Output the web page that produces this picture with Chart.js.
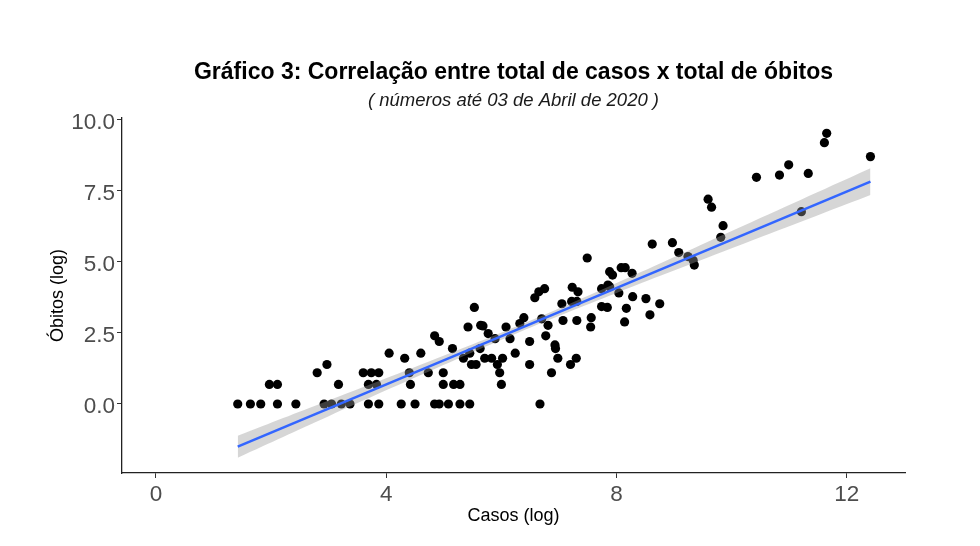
<!DOCTYPE html>
<html><head><meta charset="utf-8">
<script src="https://cdn.jsdelivr.net/npm/chart.js@4"></script>
<style>html,body{margin:0;padding:0;background:#fff}#wrap{width:980px;height:546px}</style>
</head><body><div id="wrap"><canvas id="c" width="980" height="546"></canvas></div>
<script>
const chartTitle = 'Gráfico 3: Correlação entre total de casos x total de óbitos';
const chartSubtitle = '( números até 03 de Abril de 2020 )';
const xTitle = 'Casos (log)';
const yTitle = 'Óbitos (log)';

const casos = [
  1.42,1.64,1.82,2.11,2.43,2.92,3.05,3.22,3.37,3.69,3.87,4.26,4.50,4.84,4.92,5.08,5.28,5.45,6.67,
  1.97,2.11,3.17,3.69,3.83,4.42,4.99,5.17,5.28,6.00,
  2.80,3.60,3.74,3.87,4.40,4.73,4.99,5.97,6.87,
  2.97,5.48,5.56,5.93,6.49,7.20,
  4.32,5.34,5.71,5.83,6.02,6.98,7.30,
  4.05,4.60,5.45,6.24,
  5.15,5.63,6.94,6.93,4.92,6.49,5.89,6.15,4.84,6.77,5.77,
  5.42,5.64,5.68,6.08,6.32,7.55,6.81,7.07,7.31,8.14,6.70,6.39,7.56,8.58,
  5.53,7.74,7.84,8.17,7.05,8.75,7.22,7.31,6.58,8.51,8.28,8.04,6.65,7.33,
  6.75,7.74,7.23,7.88,7.85,7.93,8.27,7.88,8.08,8.15,
  9.35,9.33,7.49,9.24,9.08,8.62,8.97,9.81,9.85,11.21,9.65,9.59,
  10.43,10.83,10.99,11.33,11.61,11.65,12.41
];
const obitos = [
  0,0,0,0,0,0,0,0,0,0,0,0,0,0,0,0,0,0,0,
  0.69,0.69,0.69,0.69,0.69,0.69,0.69,0.69,0.69,0.69,
  1.10,1.10,1.10,1.10,1.10,1.10,1.10,1.10,1.10,
  1.39,1.39,1.39,1.39,1.39,1.39,
  1.61,1.61,1.61,1.61,1.61,1.61,1.61,
  1.79,1.79,1.79,1.79,
  1.95,1.95,1.95,2.08,2.20,2.20,2.30,2.30,2.40,2.40,2.48,
  2.71,2.77,2.75,2.71,2.83,2.71,2.77,2.94,2.94,2.89,3.00,3.04,3.04,3.14,
  3.40,3.43,3.40,3.37,3.53,3.53,3.61,3.61,3.74,3.71,3.78,3.91,3.95,3.95,
  4.06,4.06,4.11,4.13,4.19,4.54,4.60,4.66,4.80,4.80,
  4.89,5.06,5.14,5.19,5.33,5.63,5.68,5.87,6.28,6.77,6.93,7.21,
  7.98,8.06,8.42,8.12,9.20,9.53,8.71
];

const fitX = [1.42, 12.41];
const fitY = [-1.50, 7.83];
const bandX = [1.42, 3, 4.5, 6.3, 8, 10, 12.41];
const bandLow = [-1.89, -0.43, 0.93, 2.52, 3.91, 5.48, 7.36];
const bandHigh = [-1.12, 0.12, 1.30, 2.76, 4.26, 6.09, 8.30];

const xTicks = [0, 4, 8, 12];
const yTicks = [0, 2.5, 5, 7.5, 10];

const zip = (xs, ys) => xs.map((x, i) => ({x: x, y: ys[i]}));

Chart.defaults.font.family = "'Liberation Sans', Arial, Helvetica, sans-serif";

new Chart(document.getElementById('c'), {
  type: 'scatter',
  data: {
    datasets: [
      {
        type: 'line', label: 'low', data: zip(bandX, bandLow), showLine: true,
        borderColor: 'rgba(0,0,0,0)', borderWidth: 0, pointRadius: 0, fill: false, tension: 0.4, order: 2
      },
      {
        type: 'line', label: 'high', data: zip(bandX, bandHigh), showLine: true,
        borderColor: 'rgba(0,0,0,0)', borderWidth: 0, pointRadius: 0,
        fill: '-1', backgroundColor: 'rgba(153,153,153,0.4)', tension: 0.4, order: 2
      },
      {
        type: 'line', label: 'fit', data: zip(fitX, fitY), showLine: true,
        borderColor: '#3366FF', borderWidth: 2.6, pointRadius: 0, fill: false, order: 1
      },
      {
        type: 'scatter', label: 'pts', data: zip(casos, obitos),
        backgroundColor: '#000', borderWidth: 0, pointRadius: 4.6, order: 3
      }
    ]
  },
  options: {
    responsive: false,
    animation: false,
    devicePixelRatio: 1,
    layout: {padding: {left: 0, right: 75, top: 0, bottom: 0}},
    plugins: {
      legend: {display: false},
      tooltip: {enabled: false},
      title: {
        display: true, text: chartTitle, fullSize: false, color: '#000',
        font: {size: 23, weight: 'bold'}, padding: {top: 59, bottom: 0}
      },
      subtitle: {
        display: true, text: chartSubtitle, fullSize: false, color: '#1a1a1a',
        font: {size: 18.5, style: 'italic', weight: 'normal'}, padding: {top: 3.3, bottom: 5.9}
      }
    },
    scales: {
      x: {
        type: 'linear', min: -0.59, max: 13.01,
        afterBuildTicks: s => { s.ticks = xTicks.map(v => ({value: v})); },
        afterFit: s => { s.height = 73; },
        ticks: {font: {size: 22.5}, color: '#4D4D4D', padding: 3.5},
        grid: {drawOnChartArea: false, drawTicks: true, tickLength: 5, color: '#333', lineWidth: 1},
        border: {display: true, color: '#222', width: 1.3},
        title: {display: true, text: xTitle, color: '#000', font: {size: 18}, padding: {top: 0, bottom: 19.5}}
      },
      y: {
        type: 'linear', min: -2.43, max: 10.07,
        afterBuildTicks: s => { s.ticks = yTicks.map(v => ({value: v})); },
        afterFit: s => { s.width = 122; },
        ticks: {font: {size: 22.5}, color: '#4D4D4D', padding: 2, labelOffset: 2.5, callback: v => Number(v).toFixed(1)},
        grid: {drawOnChartArea: false, drawTicks: true, tickLength: 5, color: '#333', lineWidth: 1},
        border: {display: true, color: '#222', width: 1.3},
        title: {display: true, text: yTitle, color: '#000', font: {size: 18}, padding: {top: 47, bottom: 0}}
      }
    }
  }
});
</script>
</body></html>
